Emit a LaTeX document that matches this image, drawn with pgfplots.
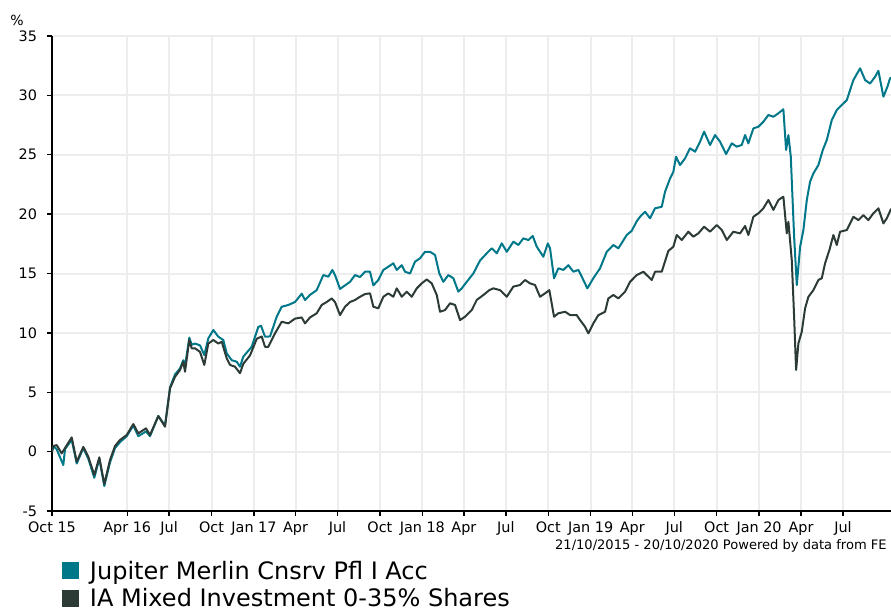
\documentclass[border=0pt]{standalone}
\usepackage{pgfplots}
\pgfplotsset{compat=1.18}
\usepackage{fontspec}
\setmainfont{DejaVu Sans}
\definecolor{tealc}{HTML}{00788A}
\definecolor{darkc}{HTML}{2D3B37}
\definecolor{gridc}{HTML}{EDEDED}

\pgfplotstableread{
day val
0 0
2.8 0.47
10.2 0.2
24.5 -1.13
28.2 0.2
42.7 1.0
53.6 -1.0
67.9 0.3
78.7 -0.6
91.7 -2.2
102.6 -0.6
113.4 -2.9
125.8 -0.9
136.6 0.3
147.4 0.8
162.0 1.3
176.3 2.2
187.1 1.3
203.8 1.7
212.5 1.3
230.5 3.0
245.0 2.2
255.9 5.4
266.7 6.5
277.5 7.0
284.7 7.7
288.4 7.2
297.7 9.6
302.9 9.0
310.1 9.1
320.9 8.95
330.2 8.13
338.9 9.54
349.8 10.24
360.6 9.68
371.4 9.4
378.8 8.28
389.6 7.7
400.5 7.57
407.6 7.15
414.8 8.0
433.0 8.83
447.3 10.5
453.2 10.6
461.8 9.68
472.7 9.7
487.2 11.36
498.1 12.2
512.4 12.35
526.9 12.6
541.4 13.3
548.6 12.77
559.4 13.2
573.9 13.6
588.3 14.87
599.1 14.73
607.8 15.3
613.6 14.87
624.5 13.7
635.3 14.0
646.2 14.3
657.0 14.87
667.8 14.7
678.7 15.15
689.5 15.15
696.7 14.0
707.5 14.45
718.4 15.3
729.2 15.57
740.1 15.86
747.4 15.3
758.3 15.7
765.4 15.15
776.3 15.0
787.1 16.0
797.9 16.28
808.8 16.83
819.6 16.83
830.5 16.56
839.8 15.0
848.5 14.3
859.3 14.87
870.2 14.6
881.0 13.47
888.4 13.75
899.2 14.3
913.5 15.0
928.1 16.1
942.6 16.7
953.4 17.12
964.3 16.7
975.1 17.54
986.0 16.83
1000.3 17.68
1011.1 17.4
1022.0 17.96
1032.8 17.82
1042.3 18.16
1051.0 17.26
1065.3 16.41
1074.9 17.54
1079.8 17.12
1088.5 14.6
1097.8 15.44
1108.7 15.3
1119.5 15.7
1130.4 15.15
1141.2 15.3
1148.6 14.73
1160.7 13.75
1173.7 14.6
1188.2 15.44
1202.8 16.83
1217.1 17.4
1227.9 17.12
1246.1 18.24
1257.0 18.6
1267.8 19.4
1275.0 19.78
1285.8 20.2
1296.7 19.65
1307.5 20.49
1322.0 20.62
1329.2 21.89
1340.0 23.0
1347.2 23.57
1353.0 24.83
1361.7 24.13
1372.6 24.7
1383.4 25.54
1394.3 25.26
1405.1 26.1
1413.8 26.94
1426.8 25.82
1437.6 26.66
1448.5 26.1
1461.5 25.06
1473.8 25.96
1484.7 25.68
1495.5 25.82
1502.7 26.66
1509.8 25.96
1520.7 27.22
1531.5 27.36
1542.3 27.78
1553.2 28.35
1564.0 28.2
1574.9 28.49
1585.7 28.83
1591.6 25.4
1596.6 26.66
1601.8 24.83
1609.0 18.1
1614.8 14.03
1622.0 17.26
1629.1 18.66
1636.5 21.19
1643.6 22.73
1650.8 23.43
1661.6 24.13
1671.2 25.4
1679.8 26.24
1690.7 27.92
1701.5 28.77
1712.3 29.19
1723.2 29.6
1737.5 31.29
1752.1 32.28
1762.9 31.29
1773.7 31.0
1784.6 31.57
1791.7 32.07
1802.6 29.89
1811.3 30.73
1817.0 31.44
1826 31.6
}\jupiter

\pgfplotstableread{
day val
0 0
2.8 0.47
10.2 0.55
21.0 -0.15
28.2 0.3
42.7 1.2
53.6 -0.85
67.9 0.4
78.7 -0.43
91.7 -1.97
102.6 -0.48
113.4 -2.73
125.8 -0.7
136.6 0.47
147.4 0.98
162.0 1.4
176.3 2.32
187.1 1.54
203.8 1.96
212.5 1.4
230.5 3.0
245.0 2.1
255.9 5.33
266.7 6.3
277.5 6.87
284.7 7.57
288.4 6.73
297.7 9.4
302.9 8.7
310.1 8.7
320.9 8.4
330.2 7.3
338.9 9.1
349.8 9.4
360.6 9.1
368.0 9.25
378.8 7.86
386.0 7.3
396.8 7.15
407.6 6.6
414.8 7.4
429.3 8.1
443.9 9.5
454.7 9.7
461.8 8.83
469.0 8.83
483.5 9.96
498.1 10.94
512.4 10.8
526.9 11.2
541.4 11.3
548.6 10.8
559.4 11.3
573.9 11.65
584.8 12.35
595.6 12.6
606.5 12.9
613.6 12.6
624.5 11.5
635.3 12.2
646.2 12.6
657.0 12.77
667.8 13.04
678.7 13.27
689.5 13.33
696.7 12.2
707.5 12.07
718.4 13.04
729.2 13.33
740.1 13.04
747.4 13.75
758.3 13.04
769.1 13.47
779.9 13.04
790.8 13.75
801.6 14.17
812.5 14.5
823.3 14.17
834.2 13.19
841.3 11.78
852.1 11.92
863.0 12.49
873.8 12.35
884.7 11.08
895.5 11.36
910.0 11.92
920.9 12.77
935.2 13.19
948.2 13.6
956.9 13.75
971.4 13.6
986.0 13.04
1000.3 13.9
1014.7 14.03
1025.6 14.45
1036.4 14.17
1047.3 14.03
1058.1 13.04
1069.0 13.33
1078.3 13.6
1088.5 11.36
1097.8 11.65
1112.4 11.78
1123.2 11.5
1137.7 11.5
1144.9 11.08
1155.7 10.52
1162.9 9.96
1173.7 10.8
1184.6 11.5
1199.1 11.78
1206.2 12.9
1217.1 13.19
1227.9 12.9
1242.4 13.47
1253.3 14.3
1267.8 14.87
1282.1 15.15
1300.3 14.45
1307.5 15.15
1322.0 15.15
1336.3 16.9
1347.2 17.26
1354.5 18.24
1365.4 17.82
1379.7 18.52
1390.5 18.1
1401.4 18.38
1413.8 18.94
1426.8 18.52
1441.3 19.08
1452.2 18.66
1463.0 17.82
1477.3 18.52
1491.8 18.38
1502.7 19.0
1509.8 18.24
1520.7 19.78
1531.5 20.07
1542.3 20.49
1553.2 21.19
1564.0 20.35
1574.9 21.19
1585.7 21.47
1593.1 18.38
1596.6 19.36
1603.9 16.13
1609.0 11.36
1613.3 6.87
1618.3 9.12
1625.6 10.1
1632.8 12.07
1640.0 13.04
1650.8 13.6
1661.6 14.45
1669.0 14.6
1676.1 15.86
1685.5 16.98
1694.1 18.24
1701.5 17.4
1708.6 18.52
1723.2 18.66
1737.5 19.78
1748.3 19.5
1759.2 19.92
1770.0 19.5
1780.8 20.07
1791.7 20.49
1802.6 19.22
1810.0 19.65
1818.6 20.4
1826 20.5
}\iamixed

\begin{document}
\begin{tikzpicture}
\path[use as bounding box] (-39pt,-72.75pt) rectangle (629.25pt,383.25pt);
\clip (-39pt,-72.75pt) rectangle (629.25pt,383.25pt);
\begin{axis}[
  at={(0pt,0pt)}, anchor=south west,
  scale only axis, width=631.65pt, height=356.25pt,
  xmin=0, xmax=1826, ymin=-5, ymax=35,
  axis x line*=bottom, axis y line*=left,
  axis line style={-, black, line width=1.5pt},
  xtick={0,163,254,346,438,528,619,711,803,893,984,1076,1168,1258,1349,1441,1533,1624,1715},
  xticklabels={Oct 15,Apr 16,Jul,Oct,Jan 17,Apr,Jul,Oct,Jan 18,Apr,Jul,Oct,Jan 19,Apr,Jul,Oct,Jan 20,Apr,Jul},
  ytick={-5,0,5,10,15,20,25,30,35},
  grid=major, major grid style={gridc, line width=1.5pt},
  tick align=outside, major tick length=3.75pt,
  tick style={black, line width=1pt},
  ticklabel style={font=\fontsize{10.8}{13}\selectfont},
  xticklabel style={yshift=-0.8pt},
  yticklabel style={xshift=-4pt},
  /pgf/number format/assume math mode=true,
  legend style={at={(axis description cs:0,0)}, anchor=north west,
    xshift=7.5pt, yshift=-38pt, draw=none, fill=none,
    inner sep=0pt, outer sep=0pt, row sep=3.7pt,
    font=\fontsize{18}{20}\selectfont,
    nodes={inner sep=0pt, text height=13pt, text depth=4pt},
    /tikz/every odd column/.append style={column sep=8.25pt}},
  legend cell align=left,
  legend image code/.code={\fill[#1, draw=none] (0pt,-4.5pt) rectangle (12.75pt,8.25pt);},
]
\addplot[tealc, line width=1.5pt, line join=round] table[x=day, y=val] {\jupiter};
\addlegendentry{Jupiter Merlin Cnsrv Pfl I Acc}
\addplot[darkc, line width=1.5pt, line join=round] table[x=day, y=val] {\iamixed};
\addlegendentry{IA Mixed Investment 0-35\% Shares}
\end{axis}
\node[anchor=base west, inner sep=0pt, font=\fontsize{10.5}{12}\selectfont] at (-31.5pt,363.75pt) {\%};
\node[anchor=base east, inner sep=0pt, font=\fontsize{9.8}{12}\selectfont] at (626.25pt,-28.5pt) {21/10/2015 - 20/10/2020 Powered by data from FE};
\end{tikzpicture}
\end{document}
